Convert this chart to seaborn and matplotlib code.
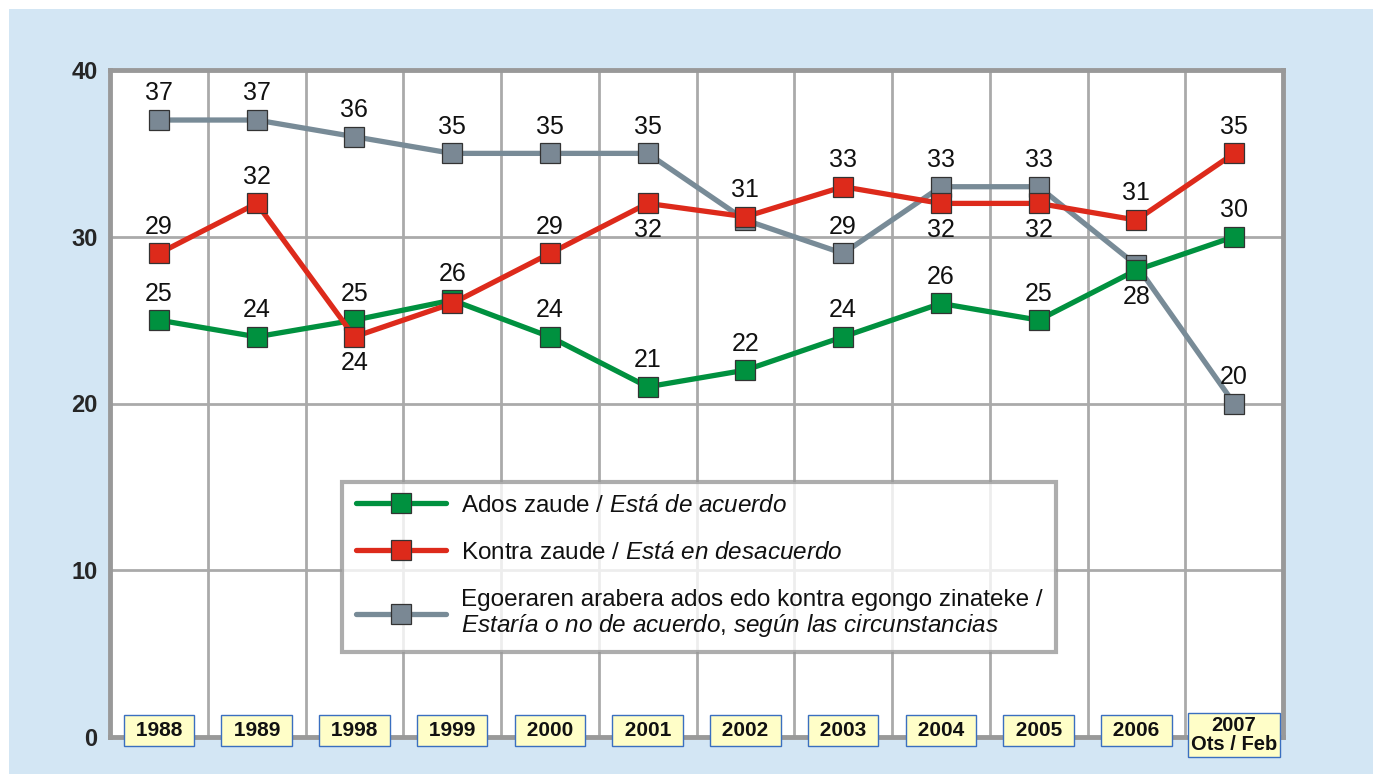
import matplotlib
matplotlib.use("Agg")
import matplotlib.pyplot as plt
import matplotlib.transforms as mtransforms
import seaborn as sns
import pandas as pd
from matplotlib.patches import Rectangle

years = ["1988", "1989", "1998", "1999", "2000", "2001", "2002", "2003",
         "2004", "2005", "2006", "2007\nOts / Feb"]
agree = [25, 24, 25, 26.2, 24, 21, 22, 24, 26, 25, 28, 30]
disagree = [29, 32, 24, 26, 29, 32, 31.2, 33, 32, 32, 31, 35]
depends = [37, 37, 36, 35, 35, 35, 31, 29, 33, 33, 28.3, 20]

agree_lbl = ["25", "24", "25", "26", "24", "21", "22", "24", "26", "25", "28", "30"]
disagree_lbl = ["29", "32", "24", "", "29", "32", "31", "33", "32", "32", "31", "35"]
depends_lbl = ["37", "37", "36", "35", "35", "35", "", "29", "33", "33", "", "20"]
agree_pos = ["a", "a", "a", "a", "a", "a", "a", "a", "a", "a", "b", "a"]
disagree_pos = ["a", "a", "b", "a", "a", "b", "a", "a", "b", "b", "a", "a"]
depends_pos = ["a"] * 12

series_labels = [
    r"Ados zaude / $\mathit{Está\ de\ acuerdo}$",
    r"Kontra zaude / $\mathit{Está\ en\ desacuerdo}$",
    "Egoeraren arabera ados edo kontra egongo zinateke /\n"
    r"$\mathit{Estaría\ o\ no\ de\ acuerdo{,}\ según\ las\ circunstancias}$",
]

sns.set_theme(style="white")
plt.rcParams["font.family"] = ["Liberation Sans", "DejaVu Sans"]
plt.rcParams["mathtext.fontset"] = "custom"
plt.rcParams["mathtext.rm"] = "Liberation Sans"
plt.rcParams["mathtext.it"] = "Liberation Sans:italic"
plt.rcParams["mathtext.bf"] = "Liberation Sans:bold"

fig = plt.figure(figsize=(13.73, 7.74), dpi=100, facecolor="white")
fig.patches.append(Rectangle((9 / 1373, 0), 1, 1 - 9 / 774, transform=fig.transFigure,
                             facecolor="#D3E6F4", edgecolor="none", zorder=-10))
ax = fig.add_axes([110 / 1373, 37 / 774, 1173 / 1373, 667 / 774])
ax.set_facecolor("white")

x = list(range(len(years)))
df = pd.DataFrame({"x": x, "agree": agree, "disagree": disagree, "depends": depends})

colors = {"agree": "#00913F", "disagree": "#DD2A1B", "depends": "#788B97"}
mcolors = {"agree": "#00913F", "disagree": "#DD2A1B", "depends": "#7A8894"}
order = [("depends", 2, depends_lbl, depends_pos),
         ("agree", 3, agree_lbl, agree_pos),
         ("disagree", 4, disagree_lbl, disagree_pos)]
handles = {}
for key, z, lbls, pos in order:
    sns.lineplot(data=df, x="x", y=key, ax=ax, color=colors[key], linewidth=3.8,
                 marker="s", markersize=15, markerfacecolor=mcolors[key],
                 markeredgecolor="#333333", markeredgewidth=0.9, zorder=z)
    handles[key] = ax.lines[-1]
    vals = df[key].tolist()
    for xi, v, t, p in zip(x, vals, lbls, pos):
        if not t:
            continue
        off = 10.5 if p == "a" else -10.5
        ax.annotate(t, (xi, v), xytext=(0, off), textcoords="offset points",
                    ha="center", va="bottom" if p == "a" else "top",
                    fontsize=18, color="#111111", zorder=6)

ax.set_xlim(-0.5, len(years) - 0.5)
ax.set_ylim(0, 40)
ax.set_yticks([0, 10, 20, 30, 40])
ax.set_xticks([i + 0.5 for i in x[:-1]], minor=True)
ax.set_xticks(x)
ax.set_xticklabels([])
ax.set_yticklabels([str(v) for v in [0, 10, 20, 30, 40]], fontweight="bold", fontsize=17)
ax.tick_params(axis="x", which="both", length=0)
ax.tick_params(axis="y", length=0, pad=9)

# year labels in boxes, overlapping the bottom edge of the plot
trans = mtransforms.blended_transform_factory(ax.transData, ax.transAxes)
for xi, yr in zip(x, years):
    multi = "\n" in yr
    ax.text(xi, 0.0035 if multi else 0.0095, yr if multi else " " + yr + " ",
            transform=trans, ha="center", va="center", fontweight="bold",
            fontsize=14.5 if multi else 15, linespacing=0.98, color="#111111",
            zorder=20, clip_on=False,
            bbox=dict(boxstyle="square,pad=%s" % (0.15 if multi else 0.3),
                      facecolor="#FFFEC8", edgecolor="#3A6FC0", linewidth=1.0))

ax.grid(True, which="minor", axis="x", color="#AAAAAA", linewidth=2)
ax.grid(True, which="major", axis="y", color="#AAAAAA", linewidth=2)
ax.grid(False, which="major", axis="x")
ax.set_axisbelow(True)
ax.set_xlabel("")
ax.set_ylabel("")
for s in ax.spines.values():
    s.set_visible(True)
    s.set_color("#999999")
    s.set_linewidth(3.5)

leg = ax.legend([handles["agree"], handles["disagree"], handles["depends"]],
                series_labels, loc="upper left", bbox_to_anchor=(0.198, 0.383),
                fontsize=17.5, frameon=True, fancybox=False, handlelength=3.7,
                handletextpad=0.65, labelspacing=1.02, borderpad=0.55,
                borderaxespad=0)
leg.get_frame().set_edgecolor("#999999")
leg.get_frame().set_linewidth(3)
leg.set_zorder(10)
for t in leg.get_texts():
    t.set_color("#111111")
    t.set_linespacing(1.05)

fig.savefig("out.png", dpi=100, facecolor="white")
